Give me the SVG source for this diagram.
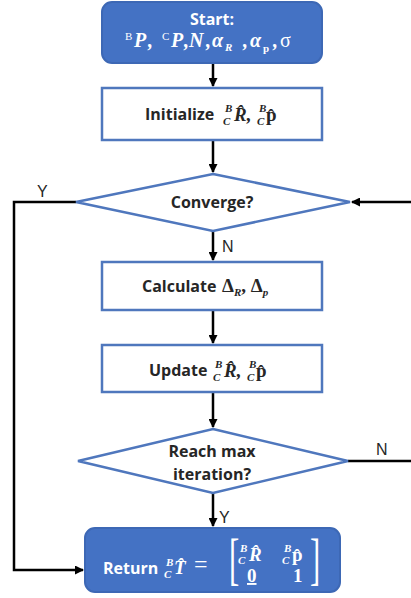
<svg xmlns="http://www.w3.org/2000/svg" width="411" height="598" viewBox="0 0 411 598">
<defs>
<marker id="ah" markerWidth="9" markerHeight="9" refX="8" refY="4.5" orient="auto" markerUnits="userSpaceOnUse">
<path d="M0,0 L9,4.5 L0,9 Z" fill="#000"/>
</marker>
<style>
.fill{fill:#4472C4;stroke:#3D68B5;stroke-width:2}
.box{fill:#fff;stroke:#4F77BD;stroke-width:2.5}
.lbl{font-family:"Open Sans","Liberation Sans",sans-serif;font-weight:bold;font-size:16px;fill:#262626}
.wl{font-family:"Open Sans","Liberation Sans",sans-serif;font-weight:bold;font-size:16px;fill:#fff}
.m{font-family:"Liberation Serif","DejaVu Serif",serif;font-weight:bold;font-style:italic;font-size:19px;fill:#262626}
.mw{font-family:"Liberation Serif","DejaVu Serif",serif;font-weight:bold;font-style:italic;font-size:19px;fill:#fff}
.big{font-size:20px}
.up{font-style:normal}
.nb{font-weight:normal}
.s{font-size:11px}
.br{font-size:56px;font-style:normal;font-weight:normal}
.yn{font-family:"Liberation Sans",Arial,sans-serif;font-size:16px;fill:#262626}
.c{fill:none;stroke:#000;stroke-width:2.5}
</style>
</defs>
<g id="connectors">
<line class="c" x1="213" y1="63" x2="213" y2="86" marker-end="url(#ah)"/>
<line class="c" x1="213" y1="141" x2="213" y2="172" marker-end="url(#ah)"/>
<line class="c" x1="213" y1="231" x2="213" y2="260" marker-end="url(#ah)"/>
<line class="c" x1="213" y1="311" x2="213" y2="343" marker-end="url(#ah)"/>
<line class="c" x1="213" y1="393" x2="213" y2="427" marker-end="url(#ah)"/>
<line class="c" x1="213" y1="493" x2="213" y2="526" marker-end="url(#ah)"/>
<polyline class="c" points="76,202 14,202 14,570 83,570" marker-end="url(#ah)"/>
<line class="c" x1="411" y1="202" x2="352" y2="202" marker-end="url(#ah)"/>
<line class="c" x1="348" y1="461" x2="411" y2="461"/>
<text class="yn" x="37" y="197">Y</text>
<text class="yn" x="222" y="252">N</text>
<text class="yn" x="376" y="455">N</text>
<text class="yn" x="219" y="523">Y</text>
</g>
<g id="start">
<rect class="fill" x="102" y="2" width="220" height="61" rx="10"/>
<text class="wl" x="212" y="25" text-anchor="middle">Start:</text>
<text class="mw s up nb" x="125" y="40">B</text>
<text class="mw big" x="134" y="47">P</text>
<text class="mw big" x="148" y="47">,</text>
<text class="mw s up nb" x="162" y="40">C</text>
<text class="mw big" x="171" y="47">P</text>
<text class="mw big" x="184" y="47">,</text>
<text class="mw big" x="189" y="47">N</text>
<text class="mw big" x="206" y="47">,</text>
<text class="mw big" x="212" y="47">α</text>
<text class="mw s" x="225" y="51">R</text>
<text class="mw big" x="243" y="47">,</text>
<text class="mw big" x="250" y="47">α</text>
<text class="mw s up" x="263" y="52">p</text>
<text class="mw big" x="273" y="47">,</text>
<text class="mw big up nb" x="280" y="47">σ</text>
</g>
<g id="initialize">
<rect class="box" x="102" y="88" width="220" height="52"/>
<text class="lbl" x="145" y="120">Initialize</text>
<text class="m s" x="225" y="112">B</text>
<text class="m s" x="223" y="125">C</text>
<text class="m" x="234" y="121">R&#x302;,</text>
<text class="m s" x="259" y="112">B</text>
<text class="m s" x="257" y="125">C</text>
<text class="m up" x="266" y="121">p&#x302;</text>
</g>
<g id="converge">
<polygon class="box" points="213,174 350,202 213,231 76,202"/>
<text class="lbl" x="212" y="208" text-anchor="middle">Converge?</text>
</g>
<g id="calculate">
<rect class="box" x="102" y="262" width="220" height="48"/>
<text class="lbl" x="142" y="292">Calculate</text>
<text class="m up" x="222" y="292">Δ<tspan class="s" dy="4" style="font-style:italic">R</tspan><tspan dy="-4">, Δ</tspan><tspan class="s" dy="4" style="font-style:italic">p</tspan></text>
</g>
<g id="update">
<rect class="box" x="102" y="345" width="220" height="47"/>
<text class="lbl" x="149" y="376">Update</text>
<text class="m s" x="215" y="368">B</text>
<text class="m s" x="213" y="381">C</text>
<text class="m" x="224" y="377">R&#x302;,</text>
<text class="m s" x="249" y="368">B</text>
<text class="m s" x="247" y="381">C</text>
<text class="m up" x="256" y="377">p&#x302;</text>
</g>
<g id="reachmax">
<polygon class="box" points="213,429 348,461 213,493 78,461"/>
<text class="lbl" x="212" y="457" text-anchor="middle">Reach max</text>
<text class="lbl" x="212" y="480" text-anchor="middle">iteration?</text>
</g>
<g id="return">
<rect class="fill" x="85" y="528" width="255" height="64" rx="10"/>
<text class="wl" x="103" y="574">Return</text>
<text class="mw s" x="166" y="566">B</text>
<text class="mw s" x="164" y="578">C</text>
<text class="mw" x="174" y="574">T&#x302;</text>
<text class="mw up nb" x="194" y="572" style="font-size:24px">=</text>
<text class="mw br" x="229" y="578" transform="translate(229 0) scale(0.55 1) translate(-229 0)">[</text>
<text class="mw br" x="310" y="578" transform="translate(310 0) scale(0.55 1) translate(-310 0)">]</text>
<text class="mw s" x="240" y="552">B</text>
<text class="mw s" x="238" y="564">C</text>
<text class="mw" x="249" y="561">R&#x302;</text>
<text class="mw s" x="284" y="552">B</text>
<text class="mw s" x="282" y="564">C</text>
<text class="mw up" x="292" y="561">p&#x302;</text>
<text class="mw up" x="247" y="582" text-decoration="underline">0</text>
<text class="mw up" x="293" y="582">1</text>
</g>
</svg>
